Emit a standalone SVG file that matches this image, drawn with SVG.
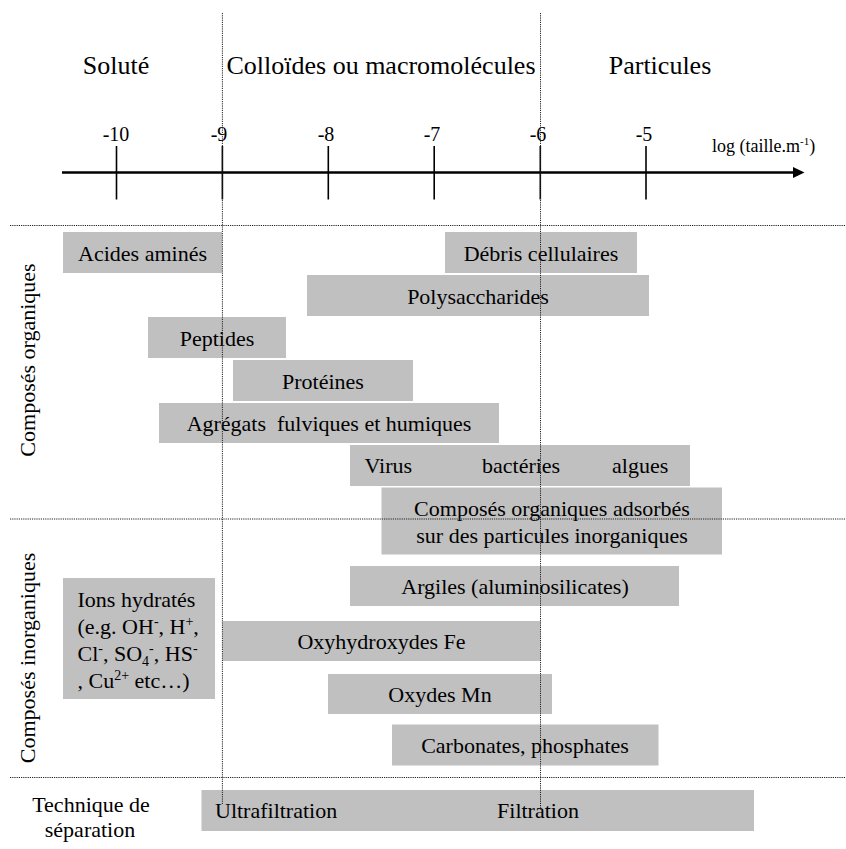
<svg xmlns="http://www.w3.org/2000/svg" width="846" height="849" viewBox="0 0 846 849">
<defs>
<style>
text{font-family:"Liberation Serif","Times New Roman",serif;fill:#000}
.h{font-size:26px;text-anchor:middle}
.t{font-size:20px;text-anchor:middle}
.b{font-size:22px;text-anchor:middle}
.l{font-size:22px}
.box{fill:#c0c0c0}
.dot{stroke:#222;stroke-width:1;stroke-dasharray:1.2 1;fill:none}
.tick{stroke:#000;stroke-width:1.6}
</style>
<marker id="arr" viewBox="0 0 12 12" refX="0" refY="6" markerWidth="12" markerHeight="12" markerUnits="userSpaceOnUse" orient="auto">
<path d="M0,0.5 L11.5,6 L0,11.5 Z" fill="#000"/>
</marker>
</defs>
<rect width="846" height="849" fill="#fff"/>

<g id="headings">
<text class="h" x="116" y="74">Soluté</text>
<text class="h" x="381" y="74">Colloïdes ou macromolécules</text>
<text class="h" x="660" y="74">Particules</text>
</g>

<g id="axis-labels">
<text class="t" x="116" y="141">-10</text>
<text class="t" x="219" y="141">-9</text>
<text class="t" x="326" y="141">-8</text>
<text class="t" x="432" y="141">-7</text>
<text class="t" x="538" y="141">-6</text>
<text class="t" x="644" y="141">-5</text>
<text x="712" y="152" font-size="18">log (taille.m<tspan font-size="11" dy="-7">-1</tspan><tspan dy="7">)</tspan></text>
</g>

<g id="side-labels">
<text class="b" transform="translate(35,360) rotate(-90)">Composés organiques</text>
<text class="b" transform="translate(35,658) rotate(-90)">Composés inorganiques</text>
<text class="b" x="91" y="812">Technique de</text>
<text class="b" x="90" y="837">séparation</text>
</g>

<g id="acides-amines"><rect class="box" x="63" y="232" width="159" height="41"/><text class="b" x="142.5" y="260.5">Acides aminés</text></g>
<g id="debris-cellulaires"><rect class="box" x="445" y="232" width="192" height="41"/><text class="b" x="541" y="260.5">Débris cellulaires</text></g>
<g id="polysaccharides"><rect class="box" x="307" y="275" width="342" height="41"/><text class="b" x="478" y="303.5">Polysaccharides</text></g>
<g id="peptides"><rect class="box" x="148" y="317" width="138" height="41"/><text class="b" x="217" y="345.5">Peptides</text></g>
<g id="proteines"><rect class="box" x="233" y="360" width="180" height="41"/><text class="b" x="323" y="388.5">Protéines</text></g>
<g id="agregats"><rect class="box" x="159" y="403" width="340" height="40"/><text class="b" x="329" y="431" xml:space="preserve">Agrégats  fulviques et humiques</text></g>
<g id="virus-bacteries-algues"><rect class="box" x="350" y="445" width="340" height="41"/><text class="l" y="473"><tspan x="364.5">Virus</tspan><tspan x="482">bactéries</tspan><tspan x="612">algues</tspan></text></g>
<g id="composes-adsorbes"><rect class="box" x="381.5" y="487.5" width="340.5" height="67"/><text class="b" x="552" y="516">Composés organiques adsorbés</text><text class="b" x="552" y="543">sur des particules inorganiques</text></g>
<g id="argiles"><rect class="box" x="350" y="566" width="329" height="40"/><text class="b" x="515" y="593.5">Argiles (aluminosilicates)</text></g>
<g id="ions-hydrates"><rect class="box" x="63" y="578" width="152" height="121"/>
<text class="l" x="77.5" y="607">Ions hydratés</text>
<text class="l" x="77.5" y="634">(e.g. OH<tspan font-size="14" dy="-8">-</tspan><tspan dy="8">, H</tspan><tspan font-size="14" dy="-8">+</tspan><tspan dy="8">,</tspan></text>
<text class="l" x="77.5" y="661">Cl<tspan font-size="14" dy="-8">-</tspan><tspan dy="8">, SO</tspan><tspan font-size="14" dy="5">4</tspan><tspan font-size="14" dy="-13">-</tspan><tspan dy="8">, HS</tspan><tspan font-size="14" dy="-8">-</tspan></text>
<text class="l" x="77.5" y="688">, Cu<tspan font-size="14" dy="-8">2+</tspan><tspan dy="8"> etc…)</tspan></text>
</g>
<g id="oxyhydroxydes-fe"><rect class="box" x="222.5" y="621" width="318" height="40"/><text class="b" x="381.5" y="648.5">Oxyhydroxydes Fe</text></g>
<g id="oxydes-mn"><rect class="box" x="328" y="674" width="224" height="40"/><text class="b" x="440" y="701.5">Oxydes Mn</text></g>
<g id="carbonates-phosphates"><rect class="box" x="392" y="724.5" width="266.5" height="41"/><text class="b" x="525" y="752.5">Carbonates, phosphates</text></g>
<g id="technique-separation"><rect class="box" x="201.5" y="790" width="552.5" height="41"/><text class="l" x="215" y="818">Ultrafiltration</text><text class="b" x="538" y="818">Filtration</text></g>

<g id="connectors">
<line x1="62" y1="172.5" x2="793" y2="172.5" stroke="#000" stroke-width="2.5" marker-end="url(#arr)"/>
<line class="tick" x1="116.5" y1="146" x2="116.5" y2="199.5"/>
<line class="tick" x1="222.4" y1="146" x2="222.4" y2="199.5"/>
<line class="tick" x1="328.3" y1="146" x2="328.3" y2="199.5"/>
<line class="tick" x1="434.2" y1="146" x2="434.2" y2="199.5"/>
<line class="tick" x1="540.3" y1="146" x2="540.3" y2="199.5"/>
<line class="tick" x1="646" y1="146" x2="646" y2="199.5"/>
<line class="dot" x1="222.4" y1="13" x2="222.4" y2="805"/>
<line class="dot" x1="540.5" y1="13" x2="540.5" y2="810"/>
<line class="dot" x1="10" y1="225.5" x2="846" y2="225.5"/>
<line class="dot" x1="10" y1="519" x2="846" y2="519"/>
<line class="dot" x1="10" y1="777.5" x2="846" y2="777.5"/>
</g>
</svg>
